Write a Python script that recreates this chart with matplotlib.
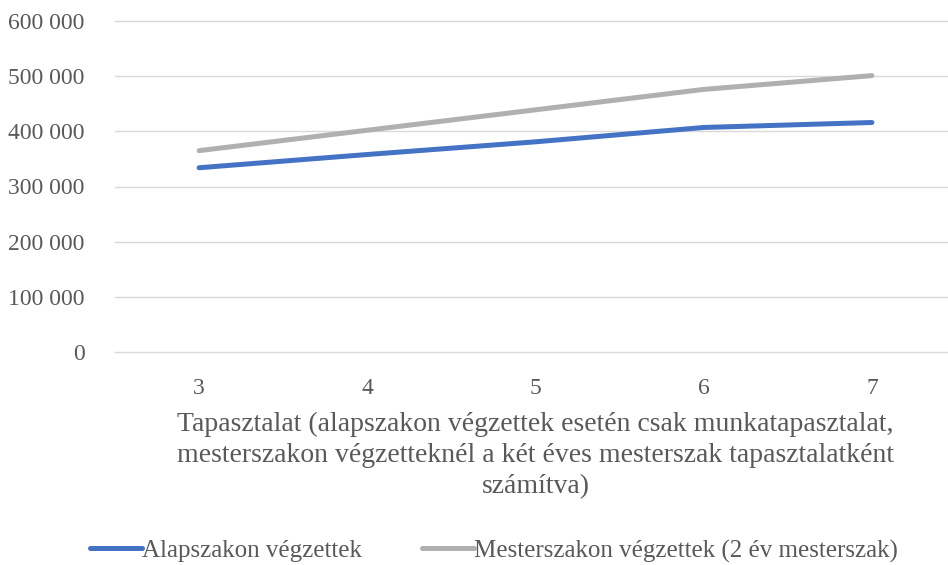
import matplotlib
matplotlib.use("Agg")
import matplotlib.pyplot as plt

categories = ["3", "4", "5", "6", "7"]
alap = [334000, 358000, 381000, 407000, 416000]
mester = [365000, 402000, 439000, 476000, 501000]
series_names = ["Alapszakon végzettek", "Mesterszakon végzettek (2 év mesterszak)"]
yticks = [0, 100000, 200000, 300000, 400000, 500000, 600000]
ytick_labels = ["0", "100 000", "200 000", "300 000", "400 000", "500 000", "600 000"]
xlabel = ("Tapasztalat (alapszakon végzettek esetén csak munkatapasztalat,\n"
          "mesterszakon végzetteknél a két éves mesterszak tapasztalatként\n"
          "számítva)")

plt.rcParams['font.family'] = ['Liberation Serif', 'DejaVu Serif']
txt = '#595959'

fig = plt.figure(figsize=(9.48, 5.65), dpi=100)
ax = fig.add_axes([115/948, 1-352/565, 841/948, (352-21)/565])

x = list(range(len(categories)))
ax.plot(x, alap, color='#4472C4', lw=3.6, solid_capstyle='round', label=series_names[0], zorder=3)
ax.plot(x, mester, color='#B0B0B0', lw=3.6, solid_capstyle='round', label=series_names[1], zorder=3)

ax.set_xlim(-0.5, len(categories) - 0.5)
ax.set_ylim(0, 600000)
ax.set_yticks(yticks)
ax.set_yticklabels(ytick_labels)
ax.set_xticks(x)
ax.set_xticklabels(categories)
ax.grid(axis='y', color='#D9D9D9', lw=1)
for gl in ax.get_ygridlines():
    gl.set_clip_on(False)
ax.set_axisbelow(True)
for s in ax.spines.values():
    s.set_visible(False)
ax.tick_params(axis='both', length=0, labelsize=17, labelcolor=txt)
ax.tick_params(axis='y', pad=22)
ax.tick_params(axis='x', pad=19)
ax.set_xlabel(xlabel, fontsize=20, color=txt, labelpad=9, linespacing=1.32)

leg = fig.legend(loc='center', bbox_to_anchor=(494/948, 1-551/565), ncol=2, frameon=False,
                 fontsize=18, handlelength=2.1, handletextpad=0.0, columnspacing=2.4,
                 borderpad=0.1)
for t in leg.get_texts():
    t.set_color(txt)

fig.savefig("out.png", dpi=100)
